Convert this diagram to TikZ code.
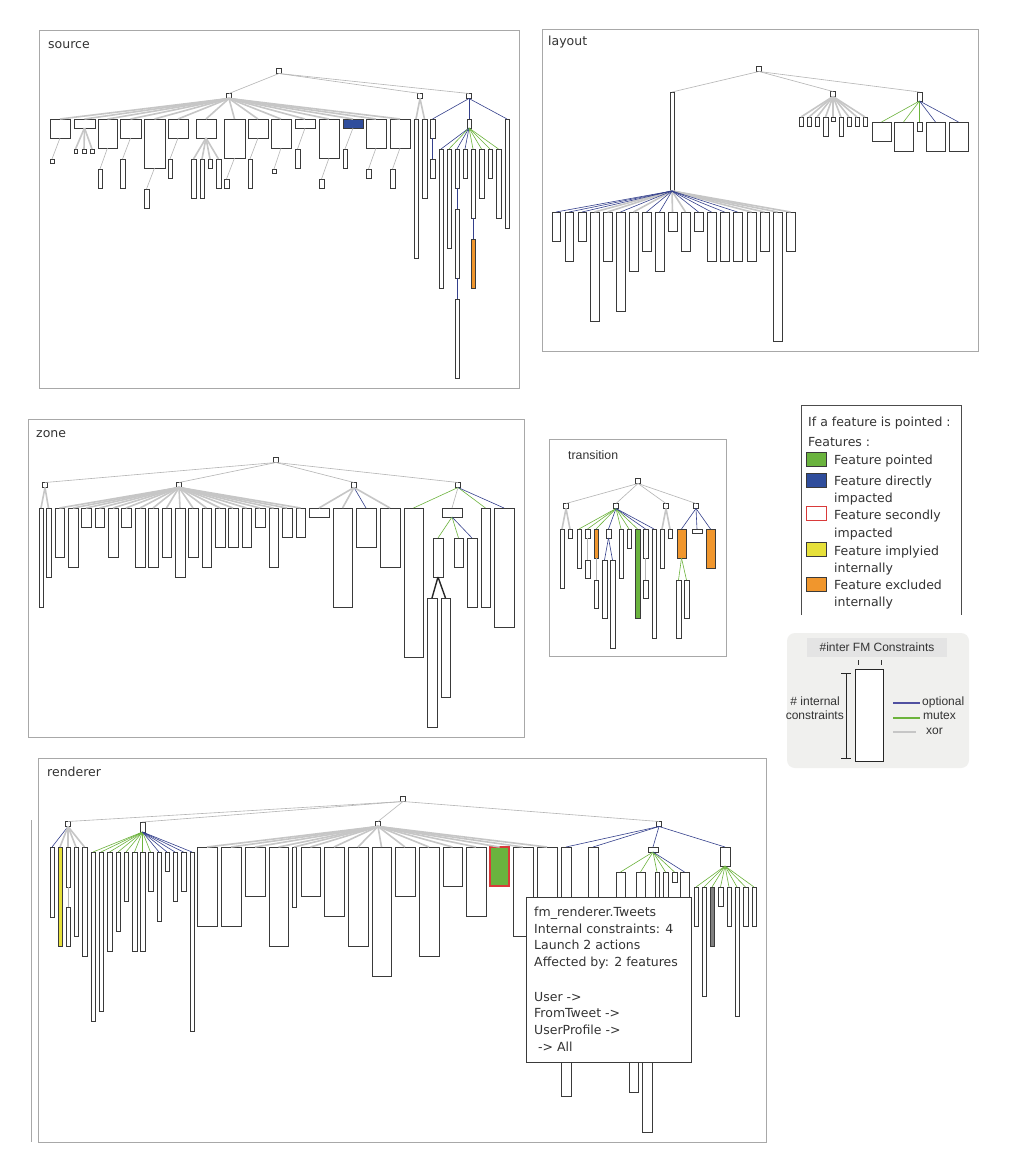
\documentclass[tikz,border=0pt]{standalone}
\usepackage{fontspec}
\setmainfont{DejaVu Sans}
\newfontfamily\arialf{Liberation Sans}
\definecolor{boxc}{HTML}{3A3A3A}
\definecolor{framec}{HTML}{A8A8A8}
\definecolor{xorc}{HTML}{C6C6C6}
\definecolor{thinc}{HTML}{B4B4B4}
\definecolor{optc}{HTML}{34408C}
\definecolor{mutc}{HTML}{6CB33C}
\definecolor{grn}{HTML}{6AB33E}
\definecolor{blu}{HTML}{2F4D9C}
\definecolor{orng}{HTML}{F0962D}
\definecolor{yel}{HTML}{E6E03A}
\definecolor{redc}{HTML}{D93A3A}
\definecolor{txtc}{HTML}{333333}
\definecolor{lgdbg}{HTML}{F0F0EE}
\definecolor{lgdhead}{HTML}{E4E4E4}
\definecolor{optl}{HTML}{5050A0}
\newcommand\fmbox[6][]{\node[fbox,minimum width={(#5-#3)*1pt},minimum height={(#6-#4)*1pt},anchor=north west,#1] (#2) at (#3,#4) {};}
\newcommand\fmsq[4][]{\node[fbox,minimum width=5pt,minimum height=5pt,#1] (#2) at (#3,#4) {};}
\newcommand\fmedge[3]{\draw[#1] (#2.south) -- (#3.north);}
\tikzset{
  fbox/.style={rectangle,draw=boxc,fill=white,line width=0.8pt,inner sep=0pt,outer sep=0pt},
  xorE/.style={draw=xorc,line width=1.6pt},
  thinE/.style={draw=thinc,line width=0.6pt},
  optE/.style={draw=optc,line width=0.6pt},
  mutE/.style={draw=mutc,line width=0.6pt},
  blkE/.style={draw=black!85,line width=1.4pt},
  frame/.style={draw=framec,line width=1pt},
  lbl/.style={font=\fontsize{12.5}{15}\selectfont,inner sep=0pt,anchor=base west,text=txtc},
  albl/.style={font=\arialf\fontsize{12}{14}\selectfont,inner sep=0pt,text=txtc},
  swatch/.style={rectangle,draw=boxc,line width=0.8pt,minimum width=20pt,minimum height=14pt,inner sep=0pt,anchor=north west},
}
\begin{document}
\begin{tikzpicture}[x=1pt,y=-1pt]
\useasboundingbox (0,0) rectangle (1011,1165);
\fill[white] (0,0) rectangle (1011,1165);

%%%%%%%%%%%%%%%% SOURCE %%%%%%%%%%%%%%%%
\draw[frame] (39,30) rectangle (519,388);
\node[lbl] (tsrc) at (48,48) {source};
\fmsq{s0}{279}{71}
\fmsq{sA}{229}{96}
\fmsq{sB}{420}{96}
\fmsq{sC}{469}{96}
\fmedge{thinE}{s0}{sA}\fmedge{thinE}{s0}{sB}\fmedge{thinE}{s0}{sC}
\fmbox{sa1}{50}{119}{70}{138}
\fmbox{sa2}{74}{119}{95}{128}
\fmbox{sa3}{98}{119}{117}{148}
\fmbox{sa4}{120}{119}{141}{138}
\fmbox{sa5}{144}{119}{165}{168}
\fmbox{sa6}{168}{119}{188}{138}
\fmbox{sa7}{196}{119}{216}{138}
\fmbox{sa8}{224}{119}{245}{158}
\fmbox{sa9}{248}{119}{268}{138}
\fmbox{sa10}{271}{119}{291}{148}
\fmbox{sa11}{295}{119}{315}{128}
\fmbox{sa12}{319}{119}{339}{158}
\fmbox[fill=blu]{sa13}{343}{119}{363}{128}
\fmbox{sa14}{366}{119}{386}{148}
\fmbox{sa15}{390}{119}{410}{148}
\foreach \i in {1,...,15} {\fmedge{xorE}{sA}{sa\i}}
% grandchildren
\fmbox{sg1}{50}{159}{54}{163}\fmedge{thinE}{sa1}{sg1}
\fmbox{sg2a}{74}{149}{77}{153}\fmbox{sg2b}{82}{149}{86}{153}\fmbox{sg2c}{90}{149}{94}{153}
\fmedge{xorE}{sa2}{sg2a}\fmedge{xorE}{sa2}{sg2b}\fmedge{xorE}{sa2}{sg2c}
\fmbox{sg3}{98}{169}{102}{188}\fmedge{thinE}{sa3}{sg3}
\fmbox{sg4}{120}{159}{125}{188}\fmedge{thinE}{sa4}{sg4}
\fmbox{sg5}{144}{189}{149}{208}\fmedge{thinE}{sa5}{sg5}
\fmbox{sg6}{168}{159}{172}{178}\fmedge{thinE}{sa6}{sg6}
\fmbox{sg7a}{191}{159}{196}{198}\fmbox{sg7b}{200}{159}{204}{198}
\fmbox{sg7c}{208}{159}{212}{168}\fmbox{sg7d}{216}{159}{221}{188}
\fmedge{xorE}{sa7}{sg7a}\fmedge{xorE}{sa7}{sg7b}\fmedge{xorE}{sa7}{sg7c}\fmedge{xorE}{sa7}{sg7d}
\fmbox{sg8}{224}{179}{229}{188}\fmedge{thinE}{sa8}{sg8}
\fmbox{sg9}{248}{159}{252}{188}\fmedge{thinE}{sa9}{sg9}
\fmbox{sg10}{272}{169}{276}{173}\fmedge{thinE}{sa10}{sg10}
\fmbox{sg11}{295}{149}{300}{168}\fmedge{thinE}{sa11}{sg11}
\fmbox{sg12}{319}{179}{324}{188}\fmedge{thinE}{sa12}{sg12}
\fmbox{sg13}{343}{149}{347}{168}\fmedge{thinE}{sa13}{sg13}
\fmbox{sg14}{366}{169}{371}{178}\fmedge{thinE}{sa14}{sg14}
\fmbox{sg15}{390}{169}{395}{188}\fmedge{thinE}{sa15}{sg15}
% B
\fmbox{sbx1}{414}{119}{418}{258}\fmbox{sbx2}{422}{119}{427}{198}
\fmedge{xorE}{sB}{sbx1}\fmedge{xorE}{sB}{sbx2}
% C
\fmbox{sc1}{430}{119}{435}{138}\fmbox{sc1b}{430}{159}{435}{178}
\fmbox{sc2}{467}{119}{471}{128}
\fmbox{sc3}{505}{119}{509}{228}
\fmedge{optE}{sC}{sc1}\fmedge{optE}{sC}{sc2}\fmedge{optE}{sC}{sc3}\fmedge{optE}{sc1}{sc1b}
\fmbox{d1}{439}{149}{443}{288}\fmedge{optE}{sc2}{d1}
\fmbox{d2}{447}{149}{451}{248}\fmedge{mutE}{sc2}{d2}
\fmbox{d3}{455}{149}{459}{188}\fmedge{optE}{sc2}{d3}
\fmbox{d3b}{455}{209}{459}{278}\fmedge{optE}{d3}{d3b}
\fmbox{d3c}{455}{299}{459}{378}\fmedge{optE}{d3b}{d3c}
\fmbox{d4}{463}{149}{467}{178}\fmedge{optE}{sc2}{d4}
\fmbox{d5}{471}{149}{475}{218}\fmedge{mutE}{sc2}{d5}
\fmbox[fill=orng]{d5b}{471}{239}{475}{288}\fmedge{optE}{d5}{d5b}
\fmbox{d6}{479}{149}{484}{198}\fmedge{mutE}{sc2}{d6}
\fmbox{d7}{488}{149}{492}{178}\fmedge{mutE}{sc2}{d7}
\fmbox{d8}{496}{149}{501}{218}\fmedge{mutE}{sc2}{d8}

%%%%%%%%%%%%%%%% LAYOUT %%%%%%%%%%%%%%%%
\draw[frame] (542,29) rectangle (978,351);
\node[lbl] (tlay) at (548,45) {layout};
\fmsq{l0}{759}{69}
\fmbox{l1}{670}{92}{674}{191}
\fmsq{l2}{833}{94}
\fmbox{l3}{917}{92}{922}{101}
\fmedge{thinE}{l0}{l1}\fmedge{thinE}{l0}{l2}\fmedge{thinE}{l0}{l3}
\fmbox{la1}{552}{212}{560}{241}
\fmbox{la2}{565}{212}{573}{261}
\fmbox{la3}{578}{212}{586}{241}
\fmbox{la4}{590}{212}{599}{321}
\fmbox{la5}{603}{212}{612}{261}
\fmbox{la6}{616}{212}{625}{311}
\fmbox{la7}{629}{212}{638}{271}
\fmbox{la8}{642}{212}{651}{251}
\fmbox{la9}{655}{212}{664}{271}
\fmbox{la10}{668}{212}{677}{231}
\fmbox{la11}{681}{212}{690}{251}
\fmbox{la12}{694}{212}{703}{231}
\fmbox{la13}{707}{212}{716}{261}
\fmbox{la14}{720}{212}{729}{261}
\fmbox{la15}{733}{212}{742}{261}
\fmbox{la16}{747}{212}{756}{261}
\fmbox{la17}{760}{212}{769}{251}
\fmbox{la18}{773}{212}{782}{341}
\fmbox{la19}{786}{212}{795}{251}
\foreach \i in {4,5,7,10,11,16,17,18,19} {\fmedge{xorE}{l1}{la\i}}
\foreach \i in {1,2,3,6,8,9,12,13,14,15} {\fmedge{optE}{l1}{la\i}}
\fmbox{lb1}{799}{117}{803}{126}
\fmbox{lb2}{807}{117}{811}{126}
\fmbox{lb3}{815}{117}{819}{126}
\fmbox{lb4}{823}{117}{828}{136}
\fmbox{lb5}{831}{117}{835}{121}
\fmbox{lb6}{839}{117}{843}{136}
\fmbox{lb7}{847}{117}{851}{126}
\fmbox{lb8}{855}{117}{859}{126}
\fmbox{lb9}{863}{117}{867}{126}
\foreach \i in {1,...,9} {\fmedge{xorE}{l2}{lb\i}}
\fmbox{lc1}{872}{122}{891}{141}\fmedge{mutE}{l3}{lc1}
\fmbox{lc2}{894}{122}{913}{151}\fmedge{mutE}{l3}{lc2}
\fmbox{lc3}{917}{122}{922}{131}\fmedge{mutE}{l3}{lc3}
\fmbox{lc4}{926}{122}{945}{151}\fmedge{optE}{l3}{lc4}
\fmbox{lc5}{949}{122}{968}{151}\fmedge{optE}{l3}{lc5}

%%%%%%%%%%%%%%%% ZONE %%%%%%%%%%%%%%%%
\draw[frame] (28,419) rectangle (524,737);
\node[lbl] (tzone) at (36,437) {zone};
\fmsq{z0}{276}{460}
\fmsq{z1}{45}{485}\fmsq{z2}{179}{485}\fmsq{z3}{354}{485}\fmsq{z4}{458}{485}
\foreach \i in {1,...,4} {\fmedge{thinE}{z0}{z\i}}
\fmbox{za1}{39}{508}{43}{607}\fmbox{za2}{46}{508}{51}{577}
\fmedge{xorE}{z1}{za1}\fmedge{xorE}{z1}{za2}
\fmbox{zb1}{55}{508}{64}{557}
\fmbox{zb2}{68}{508}{78}{567}
\fmbox{zb3}{81}{508}{91}{527}
\fmbox{zb4}{95}{508}{104}{527}
\fmbox{zb5}{108}{508}{118}{557}
\fmbox{zb6}{121}{508}{131}{527}
\fmbox{zb7}{135}{508}{145}{567}
\fmbox{zb8}{148}{508}{158}{567}
\fmbox{zb9}{162}{508}{171}{557}
\fmbox{zb10}{175}{508}{185}{577}
\fmbox{zb11}{188}{508}{198}{557}
\fmbox{zb12}{202}{508}{211}{567}
\fmbox{zb13}{215}{508}{225}{547}
\fmbox{zb14}{228}{508}{238}{547}
\fmbox{zb15}{242}{508}{251}{547}
\fmbox{zb16}{255}{508}{265}{527}
\fmbox{zb17}{269}{508}{278}{567}
\fmbox{zb18}{282}{508}{292}{537}
\fmbox{zb19}{296}{508}{305}{537}
\foreach \i in {1,...,19} {\fmedge{xorE}{z2}{zb\i}}
\fmbox{zc1}{309}{508}{329}{517}\fmedge{xorE}{z3}{zc1}
\fmbox{zc2}{333}{508}{352}{607}\fmedge{xorE}{z3}{zc2}
\fmbox{zc3}{356}{508}{376}{547}\fmedge{optE}{z3}{zc3}
\fmbox{zc4}{380}{508}{400}{567}\fmedge{xorE}{z3}{zc4}
\fmbox{zd1}{404}{508}{423}{657}\fmedge{mutE}{z4}{zd1}
\fmbox{zd2}{442}{508}{462}{517}\fmedge{thinE}{z4}{zd2}
\fmbox{zd3}{481}{508}{490}{607}\fmedge{mutE}{z4}{zd3}
\fmbox{zd4}{494}{508}{514}{627}\fmedge{optE}{z4}{zd4}
\fmbox{ze1}{433}{538}{443}{577}\fmedge{mutE}{zd2}{ze1}
\fmbox{ze2}{454}{538}{463}{567}\fmedge{mutE}{zd2}{ze2}
\fmbox{ze3}{467}{538}{477}{607}\fmedge{optE}{zd2}{ze3}
\fmbox{zf1}{427}{598}{437}{727}\fmedge{blkE}{ze1}{zf1}
\fmbox{zf2}{441}{598}{450}{697}\fmedge{blkE}{ze1}{zf2}

%%%%%%%%%%%%%%%% TRANSITION %%%%%%%%%%%%%%%%
\draw[frame] (549,439) rectangle (726,656);
\node[lbl,font=\arialf\fontsize{12.3}{14}\selectfont] (ttr) at (568,459) {transition};
\fmsq{t0}{638}{481}
\fmsq{t1}{566}{506}\fmsq{t2}{616}{506}\fmsq{t3}{666}{506}\fmsq{t4}{696}{506}
\foreach \i in {1,...,4} {\fmedge{thinE}{t0}{t\i}}
\fmbox{ta1}{560}{529}{564}{588}\fmbox{ta2}{568}{529}{572}{538}
\fmedge{xorE}{t1}{ta1}\fmedge{xorE}{t1}{ta2}
\fmbox{tb1}{577}{529}{581}{568}\fmedge{mutE}{t2}{tb1}
\fmbox{tb2}{585}{529}{590}{538}\fmedge{mutE}{t2}{tb2}
\fmbox{tb2c}{585}{560}{590}{578}\fmedge{thinE}{tb2}{tb2c}
\fmbox[fill=orng]{tb3}{594}{529}{598}{558}\fmedge{mutE}{t2}{tb3}
\fmbox{tb3c}{594}{580}{598}{608}\fmedge{thinE}{tb3}{tb3c}
\fmbox{tb4}{606}{529}{611}{538}\fmedge{optE}{t2}{tb4}
\fmbox{tb4a}{602}{560}{607}{618}\fmedge{optE}{tb4}{tb4a}
\fmbox{tb4b}{610}{560}{615}{648}\fmedge{optE}{tb4}{tb4b}
\fmbox{tb5}{619}{529}{623}{578}\fmedge{mutE}{t2}{tb5}
\fmbox{tb6}{627}{529}{631}{548}\fmedge{mutE}{t2}{tb6}
\fmbox[fill=grn]{tb7}{635}{529}{640}{618}\fmedge{mutE}{t2}{tb7}
\fmbox{tb8}{643}{529}{648}{558}\fmedge{optE}{t2}{tb8}
\fmbox{tb8c}{643}{580}{648}{598}\fmedge{thinE}{tb8}{tb8c}
\fmbox{tb9}{652}{529}{656}{638}\fmedge{optE}{t2}{tb9}
\fmbox{tc1}{660}{529}{664}{568}\fmbox{tc2}{668}{529}{672}{538}
\fmedge{xorE}{t3}{tc1}\fmedge{xorE}{t3}{tc2}
\fmbox[fill=orng]{td1}{677}{529}{686}{558}\fmedge{optE}{t4}{td1}
\fmbox{td1a}{676}{580}{681}{638}\fmedge{mutE}{td1}{td1a}
\fmbox{td1b}{684}{580}{689}{618}\fmedge{mutE}{td1}{td1b}
\fmbox{td2}{692}{529}{702}{533}\fmedge{optE}{t4}{td2}
\fmbox[fill=orng]{td3}{706}{529}{715}{568}\fmedge{optE}{t4}{td3}

%%%%%%%%%%%%%%%% LEGEND %%%%%%%%%%%%%%%%
\draw[draw=black!70,line width=0.9pt] (801,615) -- (801,405) -- (961,405) -- (961,615);
\node[lbl] (lg0) at (808,426) {If a feature is pointed :};
\node[lbl] (lg1) at (808,446) {Features :};
\node[swatch,fill=grn] (sw1) at (806,452) {};
\node[lbl] (lt1) at (834,464) {Feature pointed};
\node[swatch,fill=blu] (sw2) at (806,473) {};
\node[lbl] (lt2) at (834,485) {Feature directly};
\node[lbl] (lt2b) at (834,502) {impacted};
\node[swatch,fill=white,draw=redc,line width=1.3pt] (sw3) at (806,506) {};
\node[lbl] (lt3) at (834,519) {Feature secondly};
\node[lbl] (lt3b) at (834,537) {impacted};
\node[swatch,fill=yel] (sw4) at (806,542) {};
\node[lbl] (lt4) at (834,555) {Feature implyied};
\node[lbl] (lt4b) at (834,572) {internally};
\node[swatch,fill=orng] (sw5) at (806,577) {};
\node[lbl] (lt5) at (834,589) {Feature excluded};
\node[lbl] (lt5b) at (834,606) {internally};

% constraint legend
\fill[lgdbg,rounded corners=8pt] (787,633) rectangle (969,768);
\fill[lgdhead] (807,638) rectangle (947,657);
\node[albl,anchor=base] (clh) at (877,651) {\#inter FM Constraints};
\draw[black!80,line width=0.7pt] (858,660) -- (858,665) (881,660) -- (881,665);
\node[rectangle,draw=black!85,fill=white,line width=0.8pt,minimum width=28pt,minimum height=92pt,inner sep=0pt,anchor=north west] (cbox) at (855,669) {};
\draw[black!85,line width=0.7pt] (846,673) -- (846,758) (841,673) -- (851,673) (841,758) -- (851,758);
\node[albl,anchor=base east] (cl1) at (840,705) {\# internal};
\node[albl,anchor=base east] (cl2) at (844,719) {constraints};
\draw[optl,line width=2.4pt] (893,703) -- (920,703);
\draw[mutc,line width=2.4pt] (893,718) -- (920,718);
\draw[xorc,line width=2.4pt] (893,732) -- (916,732);
\node[albl,anchor=base west] (cl3) at (922,705) {optional};
\node[albl,anchor=base west] (cl4) at (923,719) {mutex};
\node[albl,anchor=base west] (cl5) at (926,734) {xor};

%%%%%%%%%%%%%%%% RENDERER %%%%%%%%%%%%%%%%
\draw[frame] (38,758) rectangle (766,1142);
\draw[framec,line width=1pt] (31,820) -- (31,1142);
\node[lbl] (trend) at (47,776) {renderer};
\fmsq{r0}{403}{799}
\fmsq{r1}{68}{824}
\fmbox{r2}{140}{822}{145}{832}
\fmsq{r3}{378}{824}
\fmsq{r4}{659}{824}
\foreach \i in {1,...,4} {\fmedge{thinE}{r0}{r\i}}
\fmbox{ra1}{50}{847}{54}{917}\fmedge{optE}{r1}{ra1}
\fmbox[fill=yel]{ra2}{58}{847}{62}{946}\fmedge{xorE}{r1}{ra2}
\fmbox{ra3}{66}{847}{70}{887}\fmedge{xorE}{r1}{ra3}
\fmbox{ra3c}{66}{907}{70}{946}\fmedge{thinE}{ra3}{ra3c}
\fmbox{ra4}{74}{847}{78}{936}\fmedge{xorE}{r1}{ra4}
\fmbox{ra5}{82}{847}{87}{956}\fmedge{xorE}{r1}{ra5}
\fmbox{rb1}{91}{852}{95}{1021}
\fmbox{rb2}{99}{852}{103}{1011}
\fmbox{rb3}{107}{852}{112}{951}
\fmbox{rb4}{116}{852}{120}{931}
\fmbox{rb5}{124}{852}{128}{901}
\fmbox{rb6}{132}{852}{137}{951}
\fmbox{rb7}{140}{852}{145}{951}
\fmbox{rb8}{148}{852}{153}{891}
\fmbox{rb9}{157}{852}{161}{921}
\fmbox{rb10}{165}{852}{169}{871}
\fmbox{rb11}{173}{852}{177}{901}
\fmbox{rb12}{181}{852}{186}{891}
\fmbox{rb13}{190}{852}{194}{1031}
\foreach \i in {1,...,8} {\fmedge{mutE}{r2}{rb\i}}
\foreach \i in {9,...,13} {\fmedge{optE}{r2}{rb\i}}
\fmbox{rc1}{197}{847}{217}{926}
\fmbox{rc2}{221}{847}{241}{926}
\fmbox{rc3}{245}{847}{265}{896}
\fmbox{rc4}{269}{847}{288}{946}
\fmbox{rc5}{292}{847}{296}{907}
\fmbox{rc6}{301}{847}{320}{896}
\fmbox{rc7}{324}{847}{344}{916}
\fmbox{rc8}{348}{847}{368}{946}
\fmbox{rc9}{372}{847}{391}{976}
\fmbox{rc10}{395}{847}{415}{896}
\fmbox{rc11}{419}{847}{439}{956}
\fmbox{rc12}{443}{847}{462}{886}
\fmbox{rc13}{466}{847}{486}{916}
\fmbox[fill=grn,draw=redc,line width=1.5pt]{rc14}{490}{847}{509}{886}
\fmbox{rc15}{513}{847}{533}{936}
\fmbox{rc16}{537}{847}{557}{930}
\foreach \i in {1,...,16} {\fmedge{xorE}{r3}{rc\i}}
\fmbox{rd1}{561}{847}{571}{1096}\fmedge{optE}{r4}{rd1}
\fmbox{rd2}{588}{847}{598}{950}\fmedge{optE}{r4}{rd2}
\fmbox{rd3}{648}{847}{658}{852}\fmedge{optE}{r4}{rd3}
\fmbox{rd4}{720}{847}{730}{866}\fmedge{optE}{r4}{rd4}
\fmbox{re1}{616}{872}{625}{950}
\fmbox{re2}{636}{872}{645}{950}
\fmbox{re3}{655}{872}{659}{920}
\fmbox{re4}{663}{872}{668}{920}
\fmbox{re5}{672}{872}{677}{882}
\fmbox{re6}{680}{872}{689}{920}
\foreach \i in {1,...,5} {\fmedge{mutE}{rd3}{re\i}}
\fmedge{optE}{rd3}{re6}
\fmbox{rf1}{629}{990}{638}{1092}\fmedge{thinE}{re1}{rf1}
\fmbox{rf2}{642}{1000}{652}{1132}\fmedge{thinE}{re2}{rf2}
\fmbox{rg1}{694}{887}{698}{926}
\fmbox{rg2}{702}{887}{706}{996}
\fmbox[fill=black!50]{rg3}{710}{887}{714}{946}
\fmbox{rg4}{718}{887}{723}{906}
\fmbox{rg5}{727}{887}{731}{926}
\fmbox{rg6}{735}{887}{739}{1016}
\fmbox{rg7}{743}{887}{748}{926}
\fmbox{rg8}{752}{887}{756}{926}
\foreach \i in {1,...,8} {\fmedge{mutE}{rd4}{rg\i}}

% tooltip
\node[rectangle,draw=boxc,fill=white,line width=1pt,minimum width=165pt,minimum height=165pt,inner sep=0pt,anchor=north west] (tip) at (526,897) {};
\node[lbl] (tip1) at (534,916) {fm\_renderer.Tweets};
\node[lbl] (tip2) at (534,933) {Internal constraints: 4};
\node[lbl] (tip3) at (534,949) {Launch 2 actions};
\node[lbl] (tip4) at (534,966) {Affected by: 2 features};
\node[lbl] (tip5) at (534,1001) {User ->};
\node[lbl] (tip6) at (534,1017) {FromTweet ->};
\node[lbl] (tip7) at (534,1034) {UserProfile ->};
\node[lbl] (tip8) at (538,1051) {-> All};
\end{tikzpicture}
\end{document}
